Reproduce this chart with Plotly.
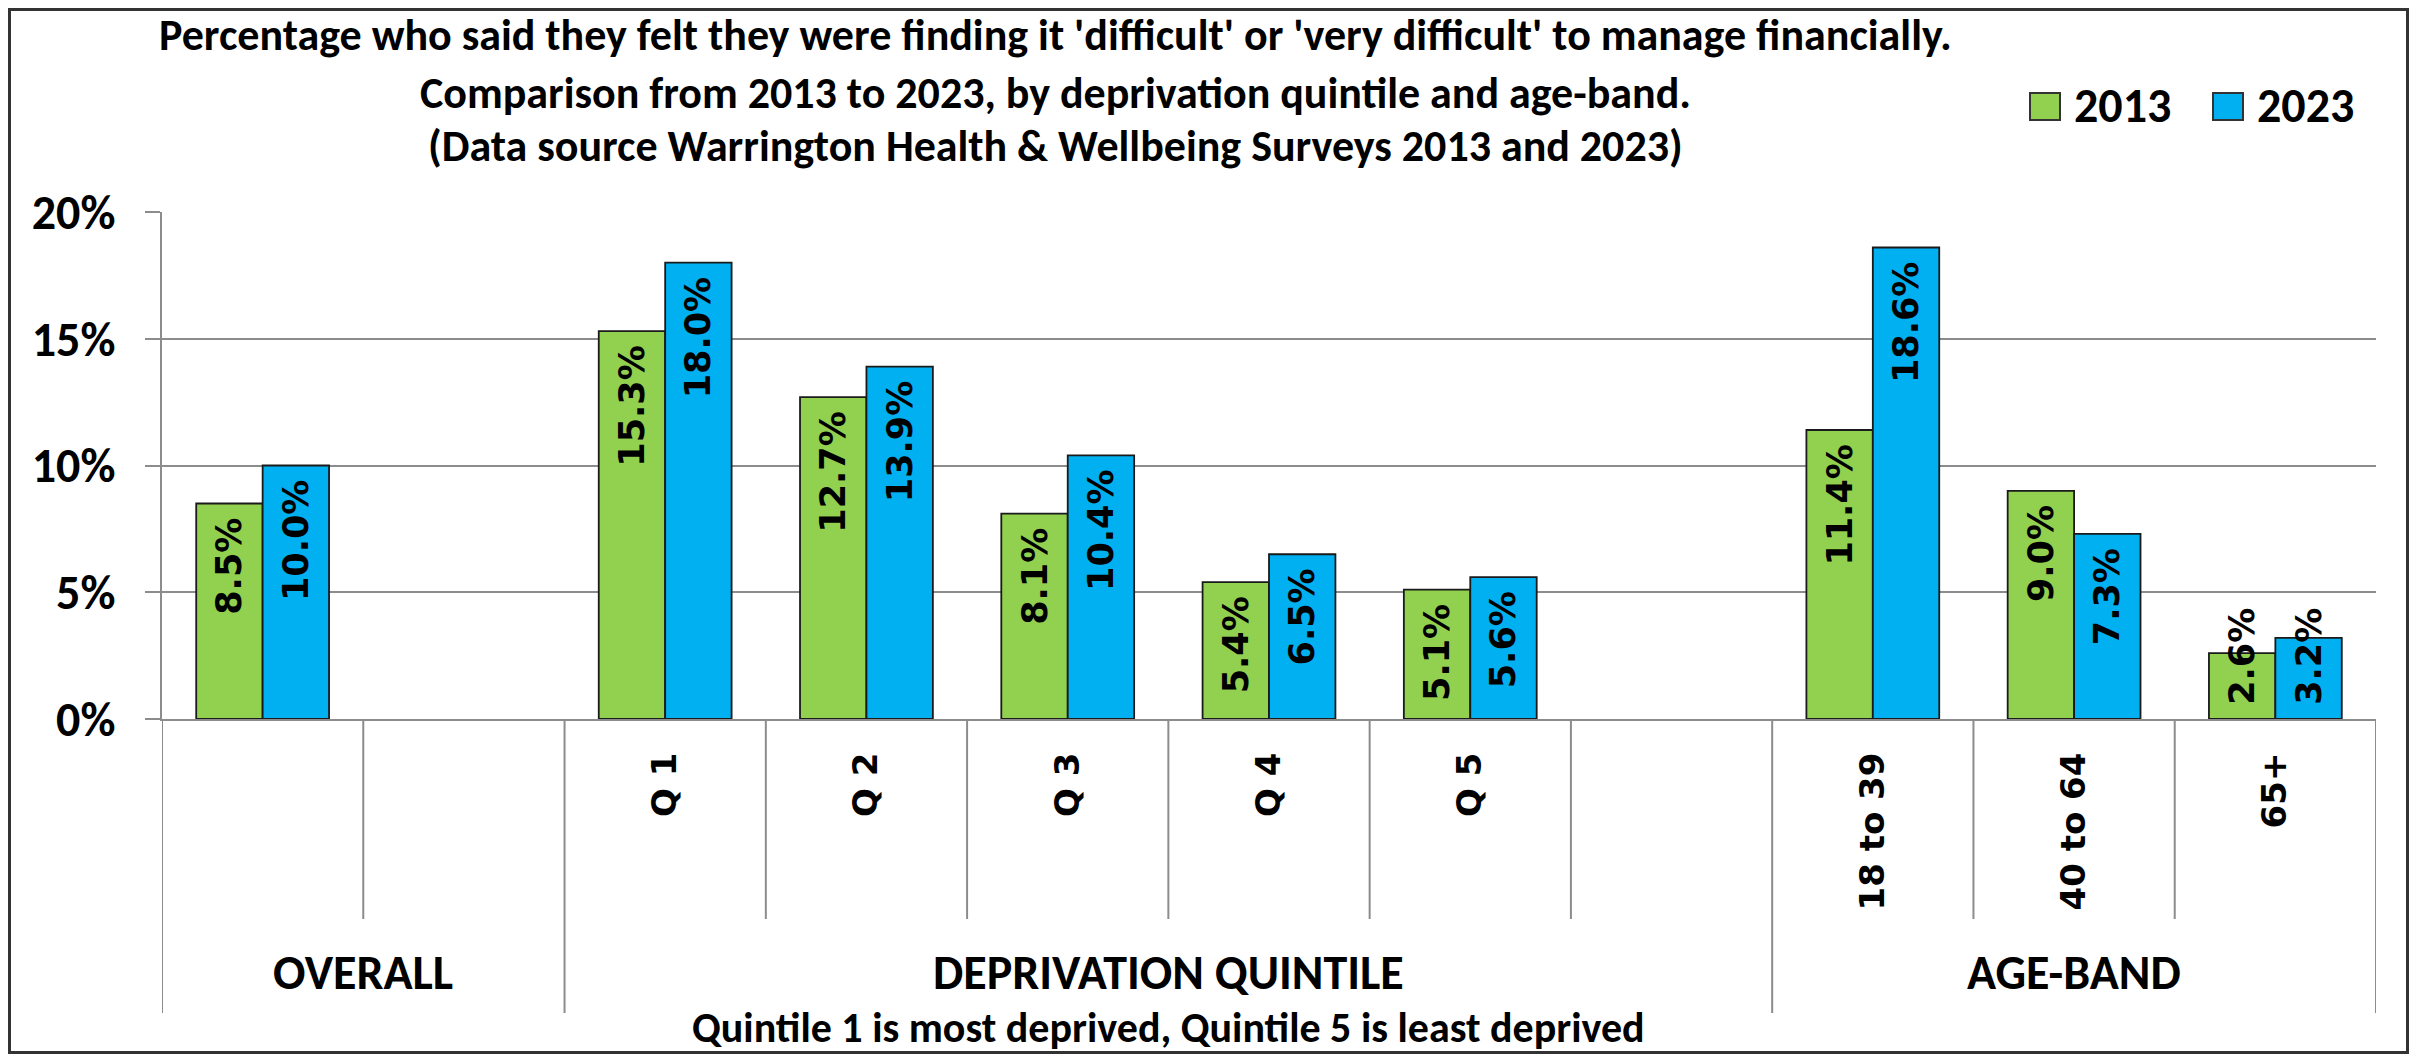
import plotly.graph_objects as go

# Datos
categories = ["", "", "Q 1", "Q 2", "Q 3", "Q 4", "Q 5", "", "18 to 39", "40 to 64", "65+"]
groups = ["OVERALL", "DEPRIVATION QUINTILE", "AGE-BAND"]
group_sizes = [2, 6, 3]
series_names = ["2013", "2023"]
series_colors = ["#92D050", "#00B0F0"]
pct_2013 = [8.5, None, 15.3, 12.7, 8.1, 5.4, 5.1, None, 11.4, 9.0, 2.6]
pct_2023 = [10.0, None, 18.0, 13.9, 10.4, 6.5, 5.6, None, 18.6, 7.3, 3.2]
y_ticks = [0, 5, 10, 15, 20]

title_lines = [
    "Percentage who said they felt they were finding it 'difficult' or 'very difficult' to manage financially.",
    "Comparison from 2013 to 2023, by deprivation quintile and age-band.",
    "(Data source Warrington Health & Wellbeing Surveys 2013 and 2023)",
]
note = "Quintile 1 is most deprived, Quintile 5 is least deprived"

# La pagina tiene 8px de margen en el body
OFF = 8
W, H = 2417 - 2 * OFF, 1062 - 2 * OFF
L, R, T, B = 154, 33, 204, 335
PW, PH = W - L - R, H - T - B

HEAD_FONT = "Carlito, Lato, sans-serif"
LABEL_FONT = "DejaVu Sans, Verdana, sans-serif"
GRID = "#8c8c8c"
MIN_INSIDE = 4.0  # por debajo la etiqueta se ancla en la base de la barra
NBSP = "\u00a0"


def px_x(px):
    return (px - OFF - L) / PW


def px_y(py):
    return (H - B - (py - OFF)) / PH


xs = list(range(len(categories)))

fig = go.Figure()
for name, vals, color in zip(series_names, [pct_2013, pct_2023], series_colors):
    tall = [v if v is not None and v >= MIN_INSIDE else None for v in vals]
    short = [v if v is not None and v < MIN_INSIDE else None for v in vals]
    for part, anchor in [(tall, "end"), (short, "start")]:
        fig.add_trace(go.Bar(
            x=xs, y=part, name=name, offsetgroup=name, showlegend=False,
            marker=dict(color=color, line=dict(color="#1a1a1a", width=1.8)),
            texttemplate=NBSP + "<b>%{y:.1f}%</b>" + NBSP,
            textposition="inside",
            insidetextanchor=anchor,
            textangle=-90,
            constraintext="none",
            cliponaxis=False,
            textfont=dict(family=LABEL_FONT, size=35, color="black"),
        ))

# Separadores del eje de categorias
shapes = []
edges = [-0.5]
for size in group_sizes:
    edges.append(edges[-1] + size)
for i in range(len(categories) + 1):
    pos = i - 0.5
    tall = pos in edges
    shapes.append(dict(
        type="line", xref="x", yref="paper", x0=pos, x1=pos,
        y0=0, y1=px_y(1013 if tall else 919),
        line=dict(color=GRID, width=2),
    ))
# Marco exterior
shapes.append(dict(
    type="rect", xref="paper", yref="paper",
    x0=px_x(OFF + 1.5), x1=px_x(OFF + W - 1.5),
    y0=px_y(OFF + H - 1.5), y1=px_y(OFF + 1.5),
    line=dict(color="#333333", width=3),
))

annotations = []
for k, line in enumerate(title_lines):
    annotations.append(dict(
        text=f"<b>{line}</b>", xref="paper", yref="paper",
        x=px_x(1055), y=px_y([35, 93, 146][k]), xanchor="center", yanchor="middle",
        showarrow=False, font=dict(family=HEAD_FONT, size=44, color="black"),
    ))

# Leyenda
for k, (name, color) in enumerate(zip(series_names, series_colors)):
    x0 = 2030 + k * 183
    shapes.append(dict(
        type="rect", xref="paper", yref="paper",
        x0=px_x(x0), x1=px_x(x0 + 30), y0=px_y(120), y1=px_y(93),
        fillcolor=color, line=dict(color="#333333", width=2),
    ))
    annotations.append(dict(
        text=f"<b>{name}</b>", xref="paper", yref="paper",
        x=px_x(x0 + 42), y=px_y(105), xanchor="left", yanchor="middle",
        showarrow=False, font=dict(family=HEAD_FONT, size=48, color="black"),
    ))

for g, (label, size) in enumerate(zip(groups, group_sizes)):
    center = edges[g] + size / 2
    annotations.append(dict(
        text=f"<b>{label}</b>", xref="x", yref="paper", x=center, y=px_y(972),
        xanchor="center", yanchor="middle", showarrow=False,
        font=dict(family=HEAD_FONT, size=48, color="black"),
    ))
    if label == "DEPRIVATION QUINTILE":
        annotations.append(dict(
            text=f"<b>{note}</b>", xref="x", yref="paper", x=center, y=px_y(1027),
            xanchor="center", yanchor="middle", showarrow=False,
            font=dict(family=HEAD_FONT, size=42, color="black"),
        ))

fig.update_layout(
    width=W, height=H,
    margin=dict(l=L, r=R, t=T, b=B, autoexpand=False),
    paper_bgcolor="white", plot_bgcolor="white",
    barmode="group", bargap=0.34, bargroupgap=0,
    showlegend=False,
    shapes=shapes,
    annotations=annotations,
)
fig.update_xaxes(
    range=[-0.5, len(categories) - 0.5],
    tickvals=xs, ticktext=[f"<b>{c}</b>" for c in categories],
    tickangle=-90, ticks="", showgrid=False,
    showline=True, linecolor=GRID, linewidth=2,
    ticklabelstandoff=18,
    tickfont=dict(family=LABEL_FONT, size=34, color="black"),
)
fig.update_yaxes(
    range=[0, 20], tickvals=y_ticks, ticktext=[f"<b>{v}%</b>" for v in y_ticks],
    showgrid=True, gridcolor=GRID, gridwidth=2,
    zeroline=False, showline=True, linecolor=GRID, linewidth=2,
    ticks="outside", ticklen=15, tickcolor=GRID, tickwidth=2,
    ticklabelstandoff=20,
    tickfont=dict(family=HEAD_FONT, size=48, color="black"),
)

fig.write_html("out.html")
